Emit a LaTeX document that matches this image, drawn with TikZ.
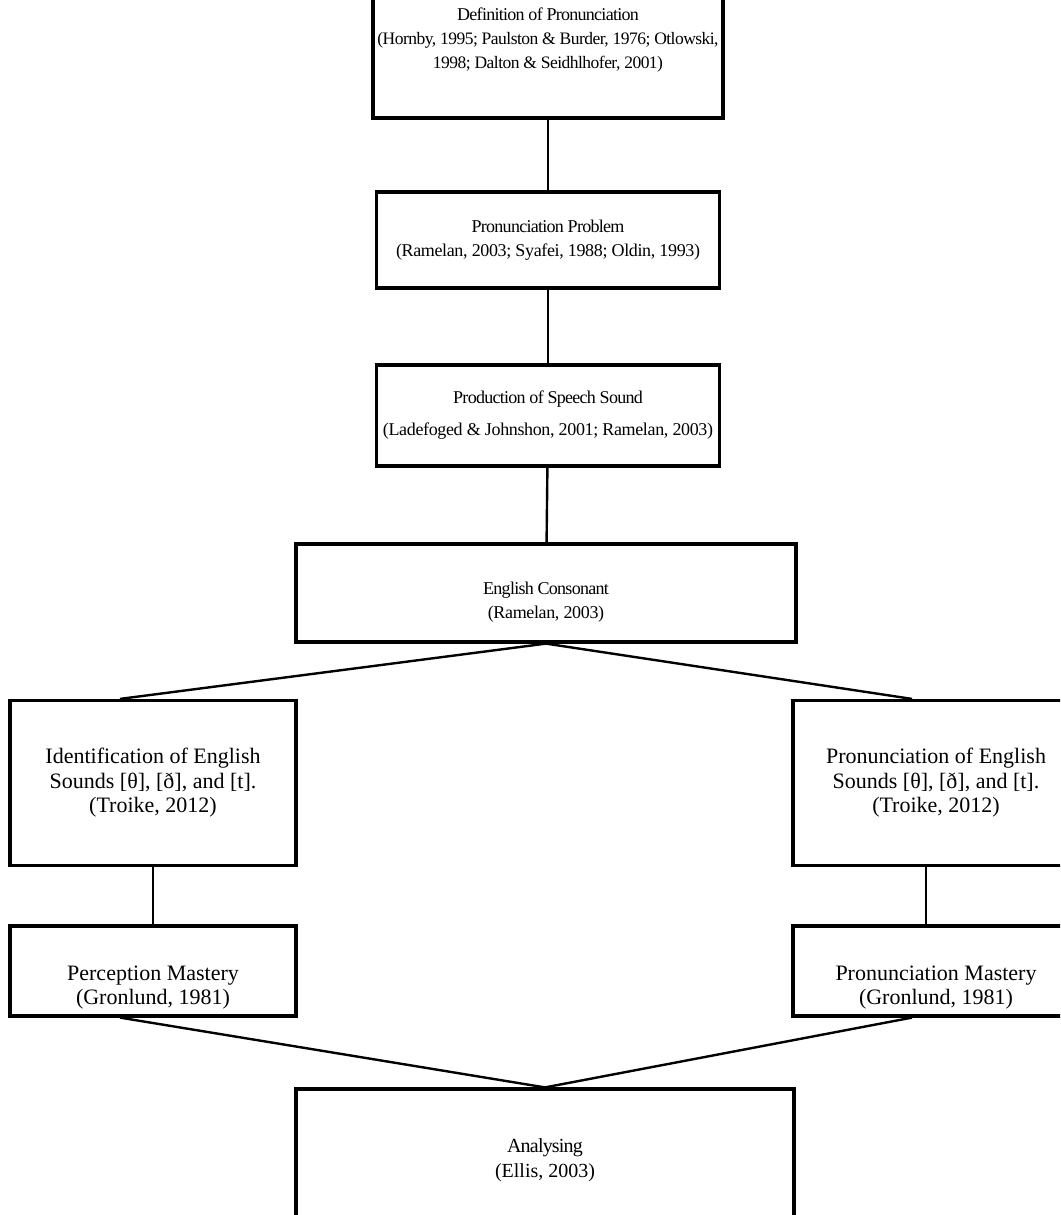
\documentclass[tikz,border=0pt]{standalone}
\usepackage{fontspec}
\setmainfont{Liberation Serif}
\newfontfamily\ttlfont{Liberation Serif}[LetterSpace=-4]
\newfontfamily\citefont{Liberation Serif}[LetterSpace=-2]
\newfontfamily\defnfont{Liberation Serif}[LetterSpace=-3]
\usetikzlibrary{positioning, calc}
\newcommand{\ttl}[1]{{\fontsize{18}{24}\selectfont\ttlfont #1}}

\begin{document}
\begin{tikzpicture}[x=1pt, y=-1pt,
  box/.style={rectangle, draw, line width=3.2pt, align=center, inner sep=4pt,
              font=\fontsize{18}{24}\selectfont\citefont},
  sidebox/.style={box, minimum width=286, font=\fontsize{22}{24.5}\selectfont},
  link/.style={line width=2.4pt},
]
\useasboundingbox (0,0) rectangle (1060,1215);
\clip (0,0) rectangle (1060,1215);
\node[box, minimum width=350, minimum height=126, text depth=34pt,
      font=\fontsize{17.5}{24}\selectfont\defnfont] (def) at (548,55)
  {\ttl{Definition of Pronunciation}\\(Hornby, 1995; Paulston \& Burder, 1976; Otlowski,\\1998; Dalton \& Seidhlhofer, 2001)};
\node[box, minimum width=343, minimum height=96] (prob) at (548,240)
  {\ttl{Pronunciation Problem}\\(Ramelan, 2003; Syafei, 1988; Oldin, 1993)};
\node[box, minimum width=343, minimum height=101] (prod) at (548,415.5)
  {\ttl{Production of Speech Sound}\\[8pt](Ladefoged \& Johnshon, 2001; Ramelan, 2003)};
\node[box, minimum width=500, minimum height=98, text height=54pt] (eng) at (546,593)
  {\ttl{English Consonant}\\(Ramelan, 2003)};
\node[sidebox, minimum height=165] (ident) at (153,783)
  {Identification of English\\Sounds [θ], [ð], and [t].\\(Troike, 2012)};
\node[sidebox, minimum height=165] (pron) at (936,783)
  {Pronunciation of English\\Sounds [θ], [ð], and [t].\\(Troike, 2012)};
\node[sidebox, minimum height=90, text height=72pt] (perc) at (153,971)
  {Perception Mastery\\(Gronlund, 1981)};
\node[sidebox, minimum height=90, text height=72pt] (pronm) at (936,971)
  {Pronunciation Mastery\\(Gronlund, 1981)};
\node[box, minimum width=498, minimum height=142, font=\fontsize{20}{25}\selectfont] (ana) at (545,1160)
  {{\fontsize{20}{25}\selectfont\ttlfont Analysing}\\(Ellis, 2003)};
\draw[link] (def) -- (prob);
\draw[link] (prob) -- (prod);
\draw[link] (prod) -- (eng);
\draw[link] (eng.south) -- ([xshift=-33pt]ident.north);
\draw[link] (eng.south) -- ([xshift=-24pt]pron.north);
\draw[link] (ident) -- (perc);
\draw[link] ([xshift=-10pt]pron.south) -- ([xshift=-10pt]pronm.north);
\draw[link] ([xshift=-33pt]perc.south) -- (ana.north);
\draw[link] ([xshift=-24pt]pronm.south) -- (ana.north);
\end{tikzpicture}
\end{document}
